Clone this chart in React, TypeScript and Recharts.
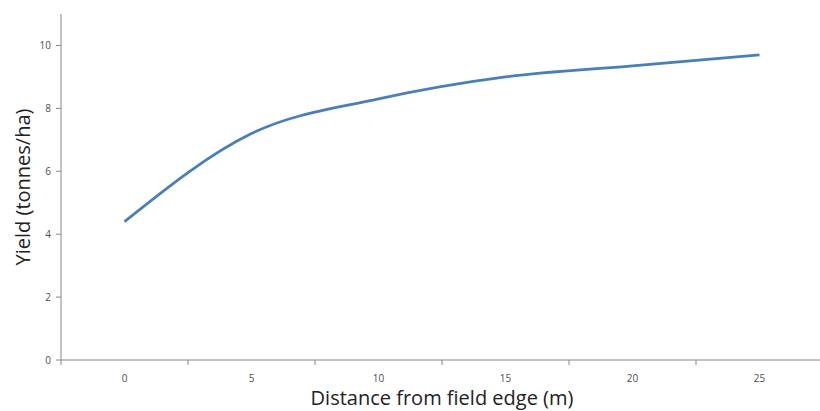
import { LineChart, Line, XAxis, YAxis, Label } from "recharts";

const distances = [0, 5, 10, 15, 20, 25];
const yields = [4.4, 7.2, 8.3, 9.0, 9.35, 9.7];
const yTicks = [0, 2, 4, 6, 8, 10];

const data = distances.map((d, i) => ({ distance: d, yield: yields[i] }));

// Excel-style category axis: tick marks sit between the categories
const step = distances[1] - distances[0];
const xTicks = [
  ...distances.map((d) => d - step / 2),
  distances[distances.length - 1] + step / 2,
  ...distances,
].sort((a, b) => a - b);

const axisColor = "#868686";
const tickFont = "'Open Sans', sans-serif";

function XTick(props: any) {
  const { x, y, payload } = props;
  if (distances.includes(payload.value)) {
    return (
      <text
        x={x}
        y={y + 18}
        textAnchor="middle"
        dominantBaseline="central"
        fontSize={10}
        fontFamily={tickFont}
        fill="#4d4d4d"
      >
        {payload.value}
      </text>
    );
  }
  return <line x1={x} y1={y} x2={x} y2={y + 5} stroke={axisColor} />;
}

export default function App() {
  return (
    <div style={{ position: "absolute", left: 0, top: 0 }}>
      <style>{`body{margin:0;overflow:hidden}`}</style>
      <LineChart
        width={830}
        height={411}
        data={data}
        margin={{ top: 14, right: 7, bottom: 0, left: 0 }}
      >
        <XAxis
          dataKey="distance"
          type="number"
          domain={[-step / 2, distances[distances.length - 1] + step / 2]}
          ticks={xTicks}
          interval={0}
          tickLine={false}
          tickSize={0}
          tickMargin={0}
          tick={<XTick />}
          axisLine={{ stroke: axisColor }}
          height={51}
        >
          <Label
            content={({ viewBox }: any) => (
              <text
                x={viewBox.x + viewBox.width / 2}
                y={viewBox.y + 45}
                textAnchor="middle"
                fontSize={20}
                fontFamily={tickFont}
                fill="#222"
              >
                Distance from field edge (m)
              </text>
            )}
          />
        </XAxis>
        <YAxis
          type="number"
          domain={[0, 11]}
          ticks={yTicks}
          interval={0}
          width={61}
          tickSize={5}
          tickMargin={5}
          tickLine={{ stroke: axisColor }}
          axisLine={{ stroke: axisColor }}
          tick={{ fontSize: 10, fontFamily: tickFont, fill: "#4d4d4d" }}
        >
          <Label
            content={({ viewBox }: any) => {
              const cx = 22;
              const cy = viewBox.y + viewBox.height / 2;
              return (
                <text
                  x={cx}
                  y={cy}
                  transform={`rotate(-90 ${cx} ${cy})`}
                  textAnchor="middle"
                  dominantBaseline="central"
                  fontSize={20}
                  fontFamily={tickFont}
                  fill="#222"
                >
                  Yield (tonnes/ha)
                </text>
              );
            }}
          />
        </YAxis>
        <Line
          type="monotone"
          dataKey="yield"
          stroke="#4a7ebb"
          strokeWidth={2.75}
          dot={false}
          isAnimationActive={false}
        />
      </LineChart>
    </div>
  );
}
